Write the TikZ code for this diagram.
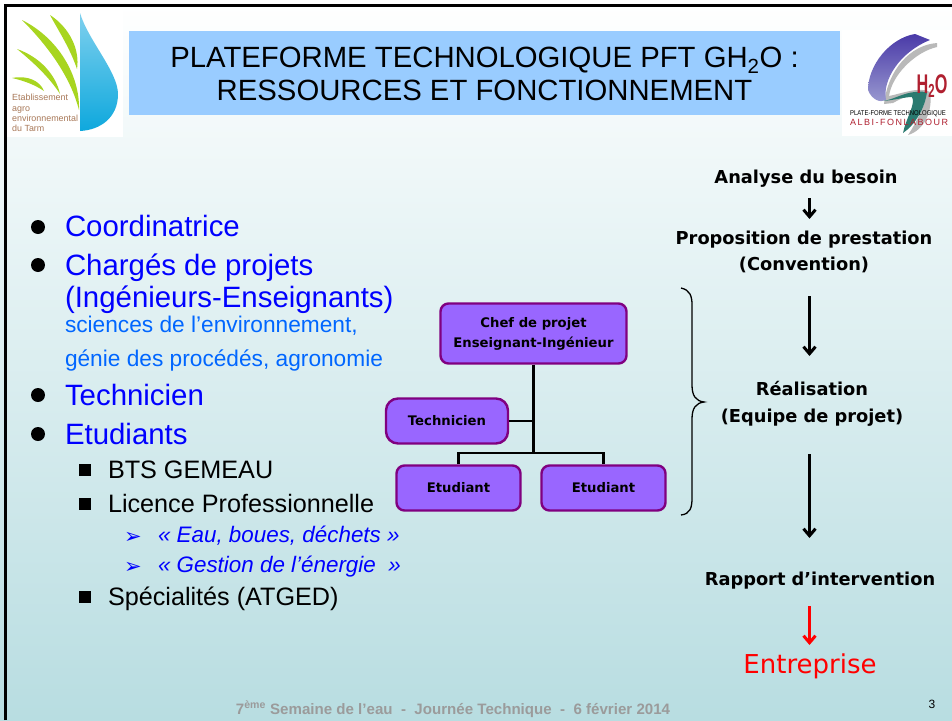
\documentclass[tikz,border=0pt]{standalone}
\usepackage{fontspec}
\setmainfont{Liberation Sans}
\newfontfamily\boxfont{DejaVu Sans}
\newfontfamily\symfont{DejaVu Sans}
\usetikzlibrary{arrows.meta,calc}
\definecolor{bgtop}{HTML}{FFFFFF}
\definecolor{bgbot}{HTML}{B8DDE1}
\definecolor{titlebg}{HTML}{99CCFF}
\definecolor{boxfill}{HTML}{9966FF}
\definecolor{boxline}{HTML}{800080}
\definecolor{mainblue}{HTML}{0000FF}
\definecolor{subblue}{HTML}{0066FF}
\definecolor{footgrey}{HTML}{9B9B9B}
\definecolor{leaf}{HTML}{A8D520}
\definecolor{dropa}{HTML}{7FD0EE}
\definecolor{dropb}{HTML}{0EA8DD}
\definecolor{logotxt}{HTML}{A87858}
\definecolor{logored}{HTML}{B02030}
\definecolor{purpa}{HTML}{4A3AA8}
\definecolor{purpb}{HTML}{9A9AD0}
\definecolor{logoteal}{HTML}{2A7A70}
\tikzset{
  x=1pt,y=-1pt,
  txt/.style={anchor=base west,inner sep=0pt,outer sep=0pt},
  lvla/.style={txt,text=mainblue,font=\fontsize{29.4}{32}\selectfont},
  lvlb/.style={txt,text=black,font=\fontsize{25.2}{28}\selectfont},
  lvlc/.style={txt,text=mainblue,font=\fontsize{22.4}{24}\selectfont\itshape},
  lvlsub/.style={txt,text=subblue,font=\fontsize{22.7}{24}\selectfont},
  dotb/.style={circle,fill=black,inner sep=0pt,minimum size=14pt},
  sqb/.style={rectangle,fill=black,inner sep=0pt,minimum size=12pt},
  arrowmark/.style={txt,text=mainblue,font=\symfont\fontsize{21}{22}\selectfont},
  orgbox/.style={draw=boxline,line width=2.4pt,fill=boxfill,rounded corners=8pt,align=center,
     font=\boxfont\bfseries\fontsize{13.2}{20}\selectfont,inner sep=0pt},
  steptext/.style={align=center,inner sep=0pt,font=\boxfont\bfseries\fontsize{17.8}{26.5}\selectfont},
  orgline/.style={line width=2.6pt,black},
  flow/.style={line width=2.4pt,-{Straight Barb[length=7pt,width=12pt,line width=3pt]}},
}
\begin{document}
\begin{tikzpicture}
\useasboundingbox (0,0) rectangle (952,720);
% background
\shade[top color=bgtop,bottom color=bgbot,middle color=bgtop!50!bgbot] (0,0) rectangle (952,720);
\draw[line width=2.6pt,black] (5.5,720) -- (5.5,5.5) -- (952,5.5);
% title
\fill[titlebg] (129,31) rectangle (840,115);
\node[anchor=center,align=center,inner sep=0pt,font=\fontsize{29.3}{33}\selectfont] (title) at (484.5,74)
  {PLATEFORME TECHNOLOGIQUE PFT GH\textsubscript{2}O :\\RESSOURCES ET FONCTIONNEMENT};
% left logo
\fill[white] (7,7) rectangle (123,137);
\shade[top color=dropa,bottom color=dropb] (80,13) .. controls (88,40) and (118,72) .. (118,94) .. controls (118,118) and (100,130) .. (80,131) -- cycle;
\fill[leaf] (50,15) .. controls (70,28) and (80,50) .. (77,69) .. controls (70,48) and (58,30) .. (50,15) -- cycle;
\fill[leaf] (22,20) .. controls (58,38) and (80,75) .. (79,110) .. controls (70,75) and (46,44) .. (22,20) -- cycle;
\fill[leaf] (17,49) .. controls (40,57) and (56,75) .. (60,94) .. controls (50,78) and (33,62) .. (17,49) -- cycle;
\fill[leaf] (12,78) .. controls (28,75) and (40,81) .. (44,91) .. controls (35,85) and (25,81) .. (12,78) -- cycle;
\node[anchor=north west,align=left,inner sep=0pt,text=logotxt,font=\fontsize{8.9}{10.4}\selectfont] (logoa) at (12,94)
  {Etablissement\\agro\\environnemental\\du Tarm};
% right logo
\fill[white] (842,30) rectangle (952,136);
\fill[gray!55] (937,43) .. controls (910,45) and (888,70) .. (884,104) -- (893,103) .. controls (905,96) and (918,92) .. (923,92) -- (926,96) .. controls (925,105) and (915,125) .. (908,135) .. controls (925,130) and (933,110) .. (930,92) .. controls (920,86) and (900,94) .. (889,96) .. controls (892,75) and (915,52) .. (937,47) -- cycle;
\shade[top color=purpa,bottom color=purpb] (915,34) .. controls (890,38) and (868,65) .. (868,90) .. controls (872,100) and (880,103) .. (886,100) .. controls (882,80) and (900,52) .. (930,40) -- cycle;
\fill[logoteal] (883,101) .. controls (897,99) and (905,90) .. (927,92) .. controls (925,108) and (915,125) .. (903,133) .. controls (906,118) and (916,104) .. (912,97) .. controls (905,97) and (895,100) .. (883,101) -- cycle;
\node[anchor=base,inner sep=0pt,text=logored,xscale=0.6,font=\fontsize{27}{27}\selectfont\bfseries] (logob) at (932,93) {H\textsubscript{2}O};
\node[anchor=base west,inner sep=0pt,xscale=0.85,font=\fontsize{7}{8}\selectfont] (logoc) at (850,115) {PLATE-FORME TECHNOLOGIQUE};
\node[anchor=base west,inner sep=0pt,text=logored,font=\fontsize{9}{10}\selectfont] (logod) at (850,125) {A\,L\,B\,I\,-\,F\,O\,N\,L\,A\,B\,O\,U\,R};
% left list
\node[dotb] (d1) at (38,227) {};
\node[lvla] (t1) at (65,236) {Coordinatrice};
\node[dotb] (d2) at (38,265) {};
\node[lvla] (t2) at (65,275) {Chargés de projets};
\node[lvla] (t2b) at (65,307) {(Ingénieurs-Enseignants)};
\node[lvlsub] (t2c) at (65,332) {sciences de l’environnement,};
\node[lvlsub] (t2d) at (65,366) {génie des procédés, agronomie};
\node[dotb] (d3) at (38,395) {};
\node[lvla] (t3) at (65,405) {Technicien};
\node[dotb] (d4) at (38,434) {};
\node[lvla] (t4) at (65,444) {Etudiants};
\node[sqb] (s1) at (84.5,470) {};
\node[lvlb] (u1) at (108,478) {BTS GEMEAU};
\node[sqb] (s2) at (84.5,504) {};
\node[lvlb] (u2) at (108,512) {Licence Professionnelle};
\node[arrowmark] (a1) at (124,543) {➢};
\node[lvlc] (v1) at (158,542) {« Eau, boues, déchets »};
\node[arrowmark] (a2) at (124,573) {➢};
\node[lvlc] (v2) at (158,572) {« Gestion de l’énergie\ \ »};
\node[sqb] (s3) at (84.5,597) {};
\node[lvlb] (u3) at (108,605) {Spécialités (ATGED)};
% org chart
\node[orgbox,minimum width=186pt,minimum height=60pt] (chef) at (533.5,333.5) {Chef de projet\\Enseignant-Ingénieur};
\node[orgbox,minimum width=122pt,minimum height=45pt,rounded corners=12pt] (tech) at (447,421) {Technicien};
\node[orgbox,minimum width=124pt,minimum height=45pt] (etu1) at (458.5,488) {Etudiant};
\node[orgbox,minimum width=124pt,minimum height=45pt] (etu2) at (603.5,488) {Etudiant};
\coordinate (jn) at (533.5,453);
\draw[orgline] (chef.south) -- (jn);
\draw[orgline] (tech.east) -- (tech.east -| jn);
\draw[orgline] (etu1.north) |- (jn) -| (etu2.north);
% brace
\coordinate (brt) at (681,288);
\coordinate (brb) at (681,515);
\coordinate (brtip) at (704,402);
\draw[line width=1.3pt,black] (brt) .. controls (690,290) and (692,296) .. (692,305) -- (692,385) .. controls (692,396) and (696,401) .. (brtip) .. controls (696,403) and (692,408) .. (692,419) -- (692,498) .. controls (692,508) and (690,514) .. (brb);
% steps
\node[steptext] (s-a) at (806,179) {Analyse du besoin};
\node[steptext] (s-b) at (804,252) {Proposition de prestation\\(Convention)};
\node[steptext] (s-c) at (812,404) {Réalisation\\(Equipe de projet)};
\node[steptext] (s-d) at (820,581) {Rapport d’intervention};
\node[anchor=center,inner sep=0pt,text=red,font=\boxfont\fontsize{26}{30}\selectfont] (s-e) at (810,666) {Entreprise};
\coordinate (a1s) at (809.5,198);\coordinate (a1e) at (809.5,219);
\coordinate (a2s) at (809.5,296);\coordinate (a2e) at (809.5,356);
\coordinate (a3s) at (809.5,454);\coordinate (a3e) at (809.5,538);
\coordinate (a4s) at (809.5,606);\coordinate (a4e) at (809.5,645);
\draw[flow] (a1s) -- (a1e);
\draw[flow] (a2s) -- (a2e);
\draw[flow] (a3s) -- (a3e);
\draw[flow,red] (a4s) -- (a4e);
% footer
\node[anchor=base,inner sep=0pt,text=footgrey,font=\bfseries\fontsize{15.1}{16}\selectfont] (foot) at (453,714) {7\textsuperscript{ème} Semaine de l’eau\ \ -\ \ Journée Technique\ \ -\ \ 6 février 2014};
\node[anchor=base,inner sep=0pt,font=\fontsize{12}{14}\selectfont] (pg) at (932,708) {3};
\end{tikzpicture}
\end{document}
